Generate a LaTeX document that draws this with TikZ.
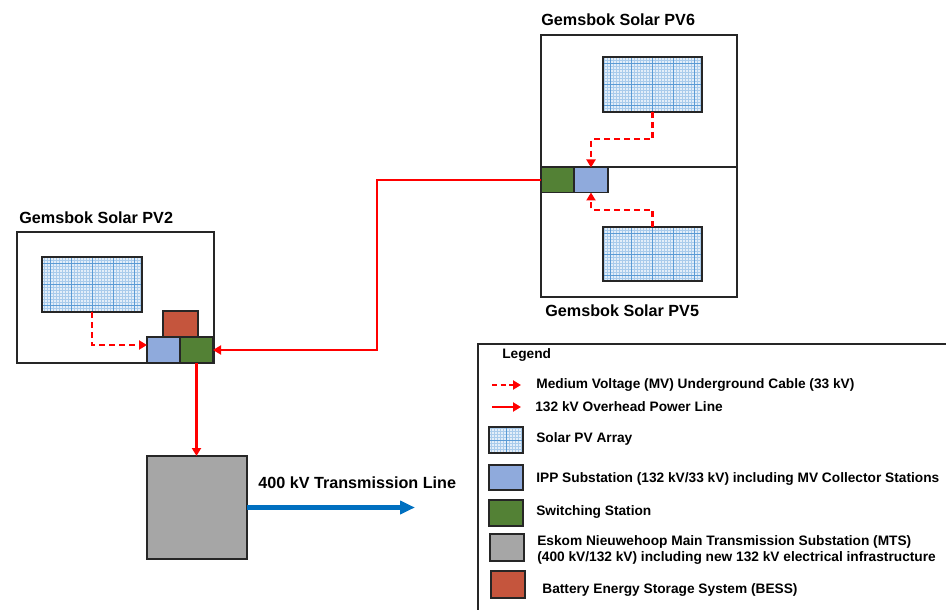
\documentclass[tikz,border=0pt]{standalone}
\usepackage{fontspec}
\setmainfont{Liberation Sans}
\usetikzlibrary{arrows.meta, positioning}
\definecolor{pvFill}{HTML}{E3EEF9}
\definecolor{pvFine}{HTML}{A9CBEB}
\definecolor{pvCoarse}{HTML}{5B9BD5}
\definecolor{ippBlue}{HTML}{8FAADC}
\definecolor{swGreen}{HTML}{538135}
\definecolor{bessRed}{HTML}{C5553D}
\definecolor{mtsGray}{HTML}{A6A6A6}
\definecolor{lineRed}{HTML}{FF0000}
\definecolor{txBlue}{HTML}{0070C0}
\definecolor{edgeDark}{HTML}{262626}
\tikzset{
  frameBox/.style={rectangle, draw=edgeDark, line width=1pt, inner sep=0pt, outer sep=0pt},
  pvArray/.style={rectangle, draw=edgeDark, line width=1pt, fill=pvFill, inner sep=0pt,
                  outer sep=0pt,
                  path picture={
                    \draw[pvFine, line width=0.3pt, step=0.6mm]
                      (path picture bounding box.south west) grid (path picture bounding box.north east);
                    \draw[pvCoarse, line width=0.45pt, step=4.2mm]
                      (path picture bounding box.south west) grid (path picture bounding box.north east);}},
  ippBox/.style={rectangle, draw=edgeDark, line width=1pt, fill=ippBlue, inner sep=0pt, outer sep=0pt},
  swBox/.style={rectangle, draw=edgeDark, line width=1pt, fill=swGreen, inner sep=0pt, outer sep=0pt},
  bessBox/.style={rectangle, draw=edgeDark, line width=1pt, fill=bessRed, inner sep=0pt, outer sep=0pt},
  mtsBox/.style={rectangle, draw=edgeDark, line width=1pt, fill=mtsGray, inner sep=0pt, outer sep=0pt},
  mvCable/.style={-{Triangle[length=1.6mm, width=1.8mm]}, draw=lineRed, line width=1.6pt,
                  dash pattern=on 1.2mm off 0.8mm},
  ohLine/.style={-{Triangle[length=1.6mm, width=1.8mm]}, draw=lineRed, line width=1.6pt},
  txLine/.style={-{Triangle[length=3mm, width=2.6mm]}, draw=txBlue, line width=2.6pt},
  siteLabel/.style={anchor=west, inner sep=0pt, font=\bfseries\fontsize{9.2}{11}\selectfont},
  legText/.style={anchor=west, inner sep=0pt, align=left, font=\bfseries\fontsize{7.8}{9.2}\selectfont},
}

\begin{document}
\begin{tikzpicture}[x=0.2mm, y=-0.2mm]
    \clip (0,0) rectangle (946,610);

    % Gemsbok Solar PV2
    \node[frameBox, minimum width=39.4mm, minimum height=26.2mm] (pv2) at (115.5,297.5) {};
    \node[siteLabel] (pv2lbl) at (19,218) {Gemsbok Solar PV2};
    \node[pvArray, minimum width=20mm, minimum height=11mm] (arr2) at (92,284.5) {};
    \node[bessBox, minimum width=7mm, minimum height=5.2mm] (bess2) at (180.5,324) {};
    \node[ippBox, minimum width=6.6mm, minimum height=5.2mm] (ipp2) at (163.5,350) {};
    \node[swBox, minimum width=6.6mm, minimum height=5.2mm] (sw2) at (196.5,350) {};

    % Gemsbok Solar PV6 / PV5
    \node[frameBox, minimum width=39.2mm, minimum height=26.4mm] (pv6) at (639,101) {};
    \node[frameBox, minimum width=39.2mm, minimum height=26mm] (pv5) at (639,232) {};
    \node[siteLabel] (pv6lbl) at (541,20) {Gemsbok Solar PV6};
    \node[siteLabel] (pv5lbl) at (545,311) {Gemsbok Solar PV5};
    \node[pvArray, minimum width=19.8mm, minimum height=11mm] (arr6) at (652.5,84.5) {};
    \node[pvArray, minimum width=19.8mm, minimum height=10.8mm] (arr5) at (652.5,254) {};
    \node[swBox, minimum width=6.6mm, minimum height=5mm] (sw56) at (557.5,180) {};
    \node[ippBox, minimum width=6.8mm, minimum height=5mm] (ipp56) at (591,180) {};

    % Eskom MTS
    \node[mtsBox, minimum width=20mm, minimum height=20.6mm] (mts) at (197,507.5) {};
    \coordinate (txEnd) at (415,507.5);
    \node[siteLabel] (txlbl) at (258,483) {400 kV Transmission Line};

    % connections
    \draw[mvCable] (arr2.south) |- ([yshift=1mm]ipp2.west);
    \draw[mvCable] (arr6.south) -- ++(0,27) -| (ipp56.north);
    \draw[mvCable] (arr5.north) -- ++(0,-17) -| (ipp56.south);
    \draw[ohLine] (sw56.west) -- ++(-164,0) |- (sw2.east);
    \draw[ohLine] (sw2.south) -- (sw2.south |- mts.north);
    \draw[txLine] (mts.east) -- (txEnd);

    % legend
    \draw[edgeDark, line width=1pt] (950,344) -| (478,614);
    \node[legText] (legTitle) at (502,355) {Legend};
    \coordinate (mvA) at (492,385);  \coordinate (mvB) at (521,385);
    \coordinate (ohA) at (492,407);  \coordinate (ohB) at (521,407);
    \draw[mvCable, dash pattern=on 1mm off 0.7mm] (mvA) -- (mvB);
    \draw[ohLine] (ohA) -- (ohB);
    \node[legText] (legMv) at (536,385) {Medium Voltage (MV) Underground Cable (33 kV)};
    \node[legText] (legOh) at (535,407) {132 kV Overhead Power Line};
    \node[pvArray, minimum width=6.8mm, minimum height=5.2mm] (legPv) at (506,440) {};
    \node[legText] (legPvT) at (536,439) {Solar PV Array};
    \node[ippBox, minimum width=6.8mm, minimum height=5mm] (legIpp) at (506,477.5) {};
    \node[legText] (legIppT) at (536,479) {IPP Substation (132 kV/33 kV) including MV Collector Stations};
    \node[swBox, minimum width=6.8mm, minimum height=5.2mm] (legSw) at (506,513) {};
    \node[legText] (legSwT) at (536,512) {Switching Station};
    \node[mtsBox, minimum width=6.8mm, minimum height=5.4mm] (legMts) at (507,547.5) {};
    \node[legText] (legMtsT) at (537,550)
      {Eskom Nieuwehoop Main Transmission Substation (MTS)\\(400 kV/132 kV) including new 132 kV electrical infrastructure};
    \node[bessBox, minimum width=6.8mm, minimum height=5.4mm] (legBess) at (508,584.5) {};
    \node[legText] (legBessT) at (542,590) {Battery Energy Storage System (BESS)};
  \end{tikzpicture}
\end{document}
